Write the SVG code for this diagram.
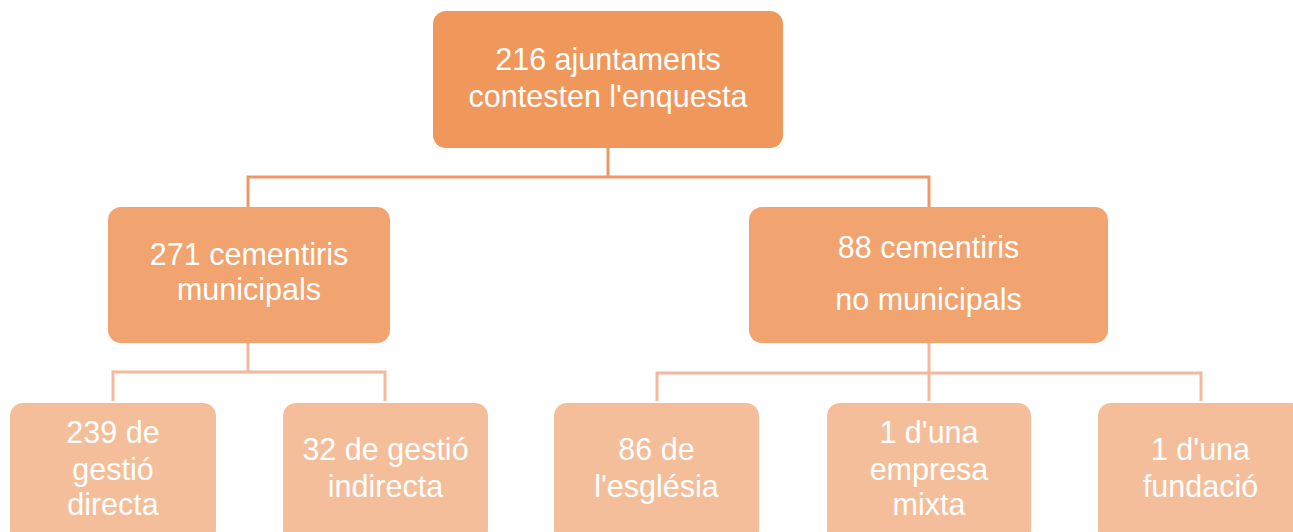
<svg xmlns="http://www.w3.org/2000/svg" width="1293" height="532" viewBox="0 0 1293 532">
<style>
text{font-family:"Liberation Sans",Arial,sans-serif;font-size:30.5px;fill:#ffffff;text-anchor:middle}
.c1{fill:none;stroke:#f0976a;stroke-width:3}
.c2{fill:none;stroke:#f5b89b;stroke-width:3}
.n0{fill:#f0975b}
.n1{fill:#f1a46f}
.n2{fill:#f5be9a}
</style>
<rect width="1293" height="532" fill="#ffffff"/>
<g id="connectors">
<path class="c1" d="M608 148V177M248 207V177H929V207"/>
<path class="c2" d="M248 343V372M113 401V372H385V401"/>
<path class="c2" d="M929 343V401M657 401V373H1201V401"/>
</g>
<g id="n-top"><rect class="n0" x="433" y="11" width="350" height="137" rx="13"/><text x="608" y="70">216 ajuntaments</text><text x="608" y="107">contesten l'enquesta</text></g>
<g id="n-mun"><rect class="n1" x="108" y="207" width="282" height="136" rx="13"/><text x="249" y="265">271 cementiris</text><text x="249" y="300">municipals</text></g>
<g id="n-nomun"><rect class="n1" x="749" y="207" width="359" height="136" rx="13"/><text x="928.5" y="258">88 cementiris</text><text x="928.5" y="310">no municipals</text></g>
<g id="n-directa"><rect class="n2" x="10" y="403" width="206" height="140" rx="13"/><text x="113" y="443">239 de</text><text x="113" y="480">gestió</text><text x="113" y="515">directa</text></g>
<g id="n-indirecta"><rect class="n2" x="283" y="403" width="205" height="140" rx="13"/><text x="385.5" y="460">32 de gestió</text><text x="385.5" y="497">indirecta</text></g>
<g id="n-esglesia"><rect class="n2" x="554" y="403" width="205" height="140" rx="13"/><text x="656.5" y="460">86 de</text><text x="656.5" y="497">l'església</text></g>
<g id="n-mixta"><rect class="n2" x="827" y="403" width="204" height="140" rx="13"/><text x="929" y="443">1 d'una</text><text x="929" y="480">empresa</text><text x="929" y="515">mixta</text></g>
<g id="n-fundacio"><rect class="n2" x="1098" y="403" width="205" height="140" rx="13"/><text x="1200.5" y="460">1 d'una</text><text x="1200.5" y="497">fundació</text></g>
</svg>
